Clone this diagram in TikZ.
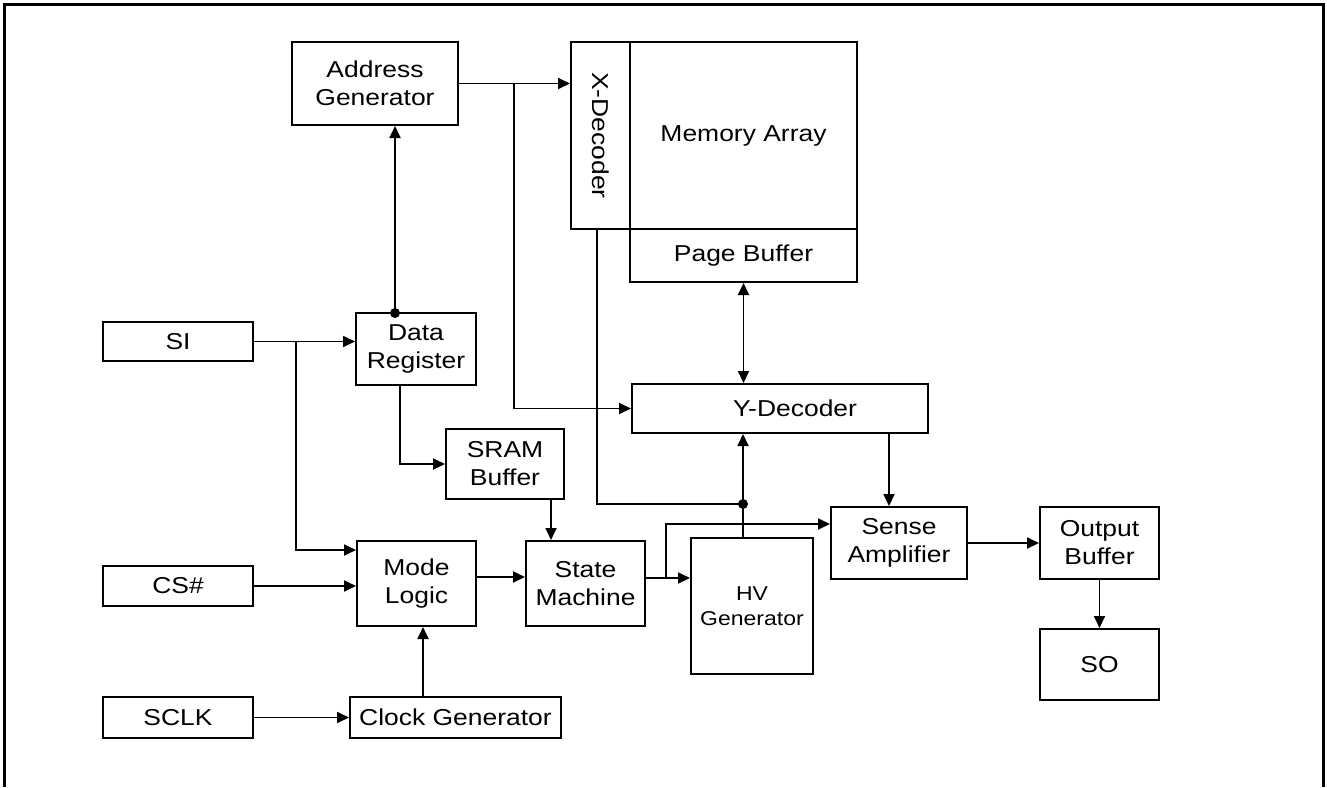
\documentclass[tikz,border=0pt]{standalone}
\usepackage{fontspec}
\setmainfont[FakeStretch=1.15]{Liberation Sans}
\usetikzlibrary{arrows.meta,positioning,calc}

\begin{document}
\begin{tikzpicture}[x=0.5pt, y=-0.5pt,
    blk/.style={draw, line width=1pt, align=center, inner sep=0pt, font=\fontsize{11.5}{14}\selectfont},
    wire/.style={line width=0.9pt},
    arr/.style={wire, -{Triangle[length=6pt,width=5.5pt]}},
    dot/.style={circle, fill, inner sep=0pt, minimum size=5pt}]
    \useasboundingbox (0,0) rectangle (1327,787);
    \draw[line width=1.5pt] (4,787) -- (4,4) -- (1323,4) -- (1323,787);

    % memory core
    \node[blk, minimum width=83pt, minimum height=41.5pt] (addr) at (375,83.5) {Address\\Generator};
    \node[blk, minimum width=29.5pt, minimum height=93.5pt] (xdec) at (600.5,135.5) {};
    \node[rotate=-90, font=\fontsize{11.5}{14}\selectfont] at (xdec) {X-Decoder};
    \node[blk, minimum width=113.5pt, minimum height=93.5pt] (mem) at (743.5,135.5) {Memory Array};
    \node[blk, minimum width=113.5pt, minimum height=26.5pt] (page) at (743.5,255.5) {Page Buffer};
    \node[blk, minimum width=148pt, minimum height=24.5pt, text width=148pt] (ydec) at (780,408.5) {\hspace*{15pt}Y-Decoder};

    % inputs and control
    \node[blk, minimum width=75pt, minimum height=19.5pt] (si) at (178,341.5) {SI};
    \node[blk, minimum width=75pt, minimum height=20pt] (cs) at (178,586) {CS\#};
    \node[blk, minimum width=75pt, minimum height=20.5pt] (sclk) at (178,717.5) {SCLK};
    \node[blk, minimum width=60pt, minimum height=36pt] (datareg) at (416,349) {Data\\Register};
    \node[blk, minimum width=59pt, minimum height=35pt] (sram) at (505,464) {SRAM\\Buffer};
    \node[blk, minimum width=59.5pt, minimum height=42.5pt] (mode) at (416.5,583.5) {Mode\\Logic};
    \node[blk, minimum width=59.5pt, minimum height=42.5pt] (state) at (585.5,583.5) {State\\Machine};
    \node[blk, minimum width=105.5pt, minimum height=20.5pt] (clk) at (455.5,717.5) {Clock Generator};
    \node[blk, minimum width=61pt, minimum height=68pt, font=\fontsize{10}{12.5}\selectfont] (hv) at (752,606) {HV\\Generator};

    % output side
    \node[blk, minimum width=68pt, minimum height=36pt] (sense) at (899,543) {Sense\\Amplifier};
    \node[blk, minimum width=59.5pt, minimum height=36pt] (outbuf) at (1099.5,543) {Output\\Buffer};
    \node[blk, minimum width=59.5pt, minimum height=35.5pt] (so) at (1099.5,664.5) {SO};

    % junctions
    \node[dot] (d1) at (395,313) {};
    \node[dot] (d2) at (743,504) {};
    \coordinate (abr) at (514,83.5);
    \coordinate (sibr) at (296,341.5);
    \coordinate (sbr) at (666,578);

    % connections
    \draw[arr] (addr.east) -- (addr.east -| xdec.west);
    \draw[arr] (abr) |- (ydec.west);
    \draw[arr] (d1.center) -- (d1 |- addr.south);
    \draw[arr] (si.east) -- (si.east -| datareg.west);
    \draw[arr] (sibr) |- (mode.west |- 0,550);
    \draw[arr] ([xshift=-8pt]datareg.south) |- (sram.west);
    \draw[arr] ([xshift=23pt]sram.south) -- ([xshift=23pt]sram.south |- state.north);
    \draw[arr] (cs.east) -- (cs.east -| mode.west);
    \draw[arr] ([yshift=3.25pt]mode.east) -- ([yshift=3.25pt]mode.east -| state.west);
    \draw[arr] ([xshift=-16.25pt]clk.north) -- ([xshift=-16.25pt]clk.north |- mode.south);
    \draw[arr] (sclk.east) -- (clk.west);
    \draw[arr] ([yshift=2.75pt]state.east) -- ([yshift=2.75pt]state.east -| hv.west);
    \draw[arr] (sbr) |- ([yshift=9.5pt]sense.west);
    \draw[wire] ([xshift=-1.75pt]xdec.south) |- (d2.center);
    \draw[arr] (hv.north -| d2) -- (d2 |- ydec.south);
    \draw[wire, {Triangle[length=6pt,width=5.5pt]}-{Triangle[length=6pt,width=5.5pt]}] (page.south) -- (page.south |- ydec.north);
    \draw[arr] ([xshift=-5pt]sense.north |- ydec.south) -- ([xshift=-5pt]sense.north);
    \draw[arr] (sense.east) -- (outbuf.west);
    \draw[arr] (outbuf.south) -- (so.north);
\end{tikzpicture}
\end{document}
